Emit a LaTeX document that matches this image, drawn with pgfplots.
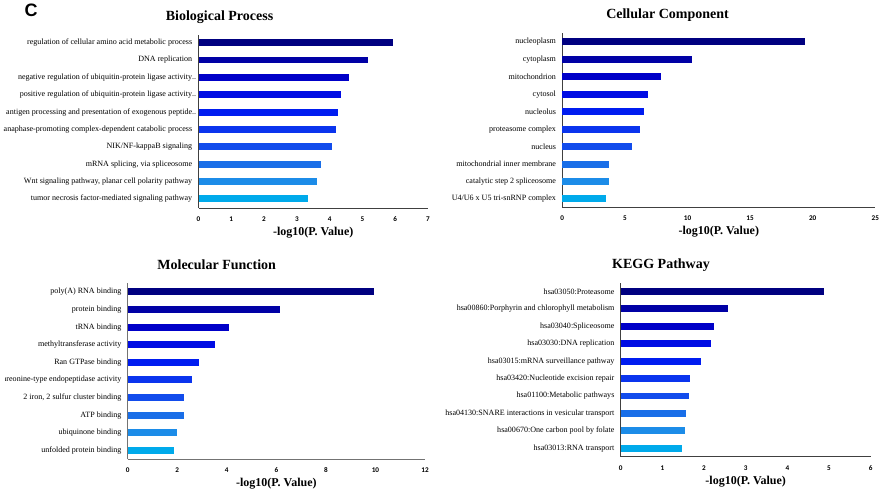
\documentclass[border=0pt]{standalone}
\usepackage{pgfplots}
\pgfplotsset{compat=1.18}
\usepackage{fontspec}
\setmainfont{Liberation Serif}
\newfontfamily\panelfont{Liberation Sans}
\newfontfamily\tickfont{Carlito}

% shades from navy (most significant) to sky blue
\definecolor{g1}{RGB}{0,0,128}
\definecolor{g2}{RGB}{0,0,165}
\definecolor{g3}{RGB}{0,0,200}
\definecolor{g4}{RGB}{0,12,228}
\definecolor{g5}{RGB}{0,28,240}
\definecolor{g6}{RGB}{10,52,238}
\definecolor{g7}{RGB}{18,76,236}
\definecolor{g8}{RGB}{25,110,232}
\definecolor{g9}{RGB}{28,140,232}
\definecolor{g10}{RGB}{0,170,235}

\newcommand\labsize{\fontsize{8.05bp}{9bp}\selectfont}
\newcommand\ticksize{\tickfont\bfseries\fontsize{7.2bp}{8bp}\selectfont}
\newcommand\titlesize{\fontsize{14bp}{16bp}\selectfont}
\newcommand\xlabsize{\fontsize{12bp}{14bp}\selectfont}

% one horizontal bar: colour, coordinate
\newcommand\gobar[2]{\addplot[xbar, bar width=0.4, bar shift=0pt, fill=#1, draw=none] coordinates {#2};}

\pgfplotsset{
  enrich/.style={
    scale only axis,
    anchor=south west,
    axis lines=left,
    axis line style={-, draw=black!75, line width=0.8bp},
    xmin=0,
    ytick={0,...,9},
    major tick length=0pt,
    yticklabel style={font=\labsize, xshift=-2.8bp},
    xticklabel style={font=\ticksize, anchor=center, yshift=-11bp},
    /pgf/number format/assume math mode=true,
    xlabel={-log10(P. Value)},
    xlabel style={font=\xlabsize\bfseries, at={(axis description cs:0.5,0)}, anchor=base, yshift=-27.5bp},
    clip=false,
  }
}

\begin{document}
\begin{tikzpicture}
\useasboundingbox (0,0) rectangle (880bp,501bp);
\clip (0,0) rectangle (880bp,501bp);

\node[font=\panelfont\bfseries\fontsize{18bp}{20bp}\selectfont] at (31bp,490.5bp) {C};

% Biological Process
\begin{axis}[enrich, at={(198.5bp,293bp)}, width=229.5bp, height=173bp,
  xmax=7, xtick={0,...,7}, ymin=-0.52, ymax=9.44,
  yticklabels={tumor necrosis factor-mediated signaling pathway,
    {Wnt signaling pathway, planar cell polarity pathway},
    {mRNA splicing, via spliceosome},
    NIK/NF-kappaB signaling,
    anaphase-promoting complex-dependent catabolic process,
    antigen processing and presentation of exogenous peptide\rlap{..},
    positive regulation of ubiquitin-protein ligase activity\rlap{..},
    negative regulation of ubiquitin-protein ligase activity\rlap{..},
    DNA replication,
    regulation of cellular amino acid metabolic process}]
\gobar{g1}{(5.93,9)}
\gobar{g2}{(5.16,8)}
\gobar{g3}{(4.59,7)}
\gobar{g4}{(4.34,6)}
\gobar{g5}{(4.24,5)}
\gobar{g6}{(4.18,4)}
\gobar{g7}{(4.08,3)}
\gobar{g8}{(3.74,2)}
\gobar{g9}{(3.61,1)}
\gobar{g10}{(3.35,0)}
\end{axis}

% Cellular Component
\begin{axis}[enrich, at={(562.3bp,294bp)}, width=313bp, height=174bp,
  xmax=25, xtick={0,5,...,25}, ymin=-0.46, ymax=9.5,
  yticklabels={U4/U6 x U5 tri-snRNP complex,
    catalytic step 2 spliceosome,
    mitochondrial inner membrane,
    nucleus,
    proteasome complex,
    nucleolus,
    cytosol,
    mitochondrion,
    cytoplasm,
    nucleoplasm}]
\gobar{g1}{(19.36,9)}
\gobar{g2}{(10.37,8)}
\gobar{g3}{(7.87,7)}
\gobar{g4}{(6.81,6)}
\gobar{g5}{(6.52,5)}
\gobar{g6}{(6.22,4)}
\gobar{g7}{(5.53,3)}
\gobar{g8}{(3.75,2)}
\gobar{g9}{(3.75,1)}
\gobar{g10}{(3.51,0)}
\end{axis}

% Molecular Function (its panel is cut a few points from the left edge)
\begin{scope}
\clip (5.5bp,0) rectangle (440bp,250bp);
\begin{axis}[enrich, at={(127.7bp,42bp)}, width=297.3bp, height=176bp,
  xmax=12, xtick={0,2,...,12}, ymin=-0.49, ymax=9.51,
  axis line style={draw=black!55},
  yticklabels={unfolded protein binding,
    ubiquinone binding,
    ATP binding,
    {2 iron, 2 sulfur cluster binding},
    threonine-type endopeptidase activity,
    Ran GTPase binding,
    methyltransferase activity,
    tRNA binding,
    protein binding,
    poly(A) RNA binding}]
\gobar{g1}{(9.95,9)}
\gobar{g2}{(6.14,8)}
\gobar{g3}{(4.10,7)}
\gobar{g4}{(3.53,6)}
\gobar{g5}{(2.88,5)}
\gobar{g6}{(2.58,4)}
\gobar{g7}{(2.29,3)}
\gobar{g8}{(2.29,2)}
\gobar{g9}{(1.97,1)}
\gobar{g10}{(1.88,0)}
\end{axis}
\end{scope}

% KEGG Pathway
\begin{axis}[enrich, at={(620.7bp,44.3bp)}, width=250bp, height=173.7bp,
  xmax=6, xtick={0,...,6}, ymin=-0.48, ymax=9.48,
  yticklabels={hsa03013:RNA transport,
    hsa00670:One carbon pool by folate,
    hsa04130:SNARE interactions in vesicular transport,
    hsa01100:Metabolic pathways,
    hsa03420:Nucleotide excision repair,
    hsa03015:mRNA surveillance pathway,
    hsa03030:DNA replication,
    hsa03040:Spliceosome,
    hsa00860:Porphyrin and chlorophyll metabolism,
    hsa03050:Proteasome}]
\gobar{g1}{(4.88,9)}
\gobar{g2}{(2.57,8)}
\gobar{g3}{(2.25,7)}
\gobar{g4}{(2.16,6)}
\gobar{g5}{(1.93,5)}
\gobar{g6}{(1.67,4)}
\gobar{g7}{(1.65,3)}
\gobar{g8}{(1.57,2)}
\gobar{g9}{(1.54,1)}
\gobar{g10}{(1.48,0)}
\end{axis}

% panel titles
\node[font=\titlesize\bfseries, anchor=base] at (219.5bp,480bp) {Biological Process};
\node[font=\titlesize\bfseries, anchor=base] at (667.5bp,482bp) {Cellular Component};
\node[font=\titlesize\bfseries, anchor=base] at (216.7bp,231.7bp) {Molecular Function};
\node[font=\titlesize\bfseries, anchor=base] at (661bp,232bp) {KEGG Pathway};
\end{tikzpicture}
\end{document}
